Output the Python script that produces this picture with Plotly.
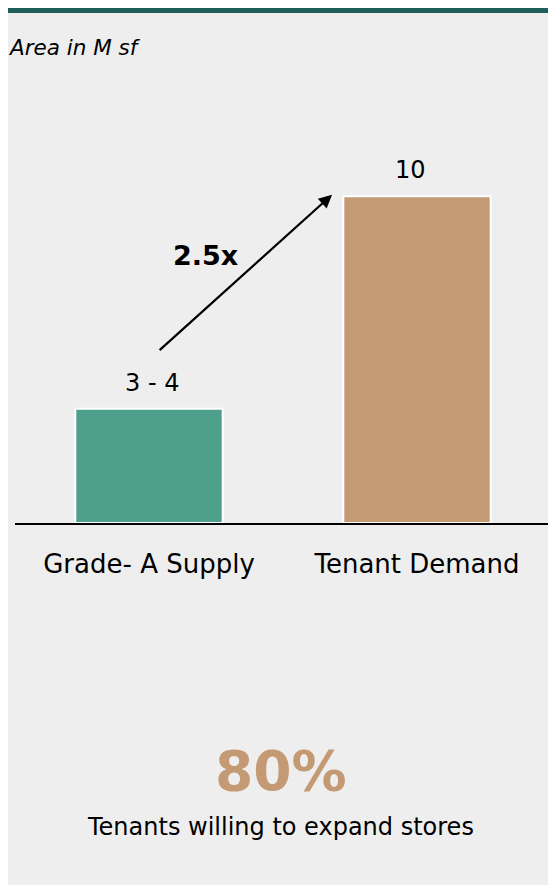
import plotly.graph_objects as go

# data
categories = ["Grade- A Supply", "Tenant Demand"]
values = [3.5, 10]
value_labels = ["3 - 4", "10"]
bar_colors = ["#4e9f8c", "#c49a74"]
growth_label = "2.5x"
headline_value = "80%"
headline_caption = "Tenants willing to expand stores"
unit_note = "Area in M sf"

# the page body adds an 8px margin, so the figure is laid out smaller
OFF = 8
W, H = 556 - OFF, 893 - 2 * OFF
ML, MR, MT, MB = 7, 5, 123, 362
FONT = "DejaVu Sans"
label_xshift = [3, -7]


def px_x(p):
    # page pixel -> paper x
    return (p - OFF - ML) / (W - ML - MR)


def px_y(p):
    # page pixel -> paper y
    return (H - MB - (p - OFF)) / (H - MT - MB)


fig = go.Figure()
fig.add_trace(go.Bar(x=categories, y=values, cliponaxis=False,
                     marker=dict(color=bar_colors, line=dict(color="white", width=2)),
                     width=0.55, showlegend=False, hoverinfo="skip"))

# value labels above bars
for cat, val, lab, dx in zip(categories, values, value_labels, label_xshift):
    fig.add_annotation(x=cat, y=val, text=lab, showarrow=False, yanchor="middle",
                       yshift=26, xshift=dx, font=dict(size=24, color="black", family=FONT))

# background panel and top strip
fig.add_shape(type="rect", xref="paper", yref="paper", layer="below",
              x0=px_x(7), x1=px_x(560), y0=px_y(13), y1=px_y(890),
              fillcolor="#eeeeee", line_width=0)
fig.add_shape(type="rect", xref="paper", yref="paper", layer="below",
              x0=px_x(7), x1=px_x(560), y0=px_y(5), y1=px_y(13),
              fillcolor="#1f5f5b", line_width=0)

# growth arrow from supply to demand
fig.add_annotation(x=0.683, y=values[1] + 0.05, ax=0.034, ay=values[0] + 1.75,
                   xref="x", yref="y", axref="x", ayref="y", text="",
                   showarrow=True, arrowhead=2, arrowsize=1.2, arrowwidth=2.2,
                   arrowcolor="black")
fig.add_annotation(x=0.209, y=8.2, xref="x", yref="y", text="<b>" + growth_label + "</b>",
                   showarrow=False, font=dict(size=27, color="black", family=FONT))

fig.add_annotation(x=px_x(6), y=px_y(47), xref="paper", yref="paper",
                   xanchor="left", yanchor="middle", showarrow=False,
                   text="<i>" + unit_note + "</i>",
                   font=dict(size=21.5, color="black", family=FONT))
fig.add_annotation(x=px_x(281), y=px_y(771), xref="paper", yref="paper",
                   xanchor="center", yanchor="middle", showarrow=False,
                   text="<b>" + headline_value + "</b>",
                   font=dict(size=55, color="#c49a74", family=FONT))
fig.add_annotation(x=px_x(280), y=px_y(827), xref="paper", yref="paper",
                   xanchor="center", yanchor="middle", showarrow=False,
                   text=headline_caption,
                   font=dict(size=24, color="black", family=FONT))

fig.update_layout(width=W, height=H, margin=dict(l=ML, r=MR, t=MT, b=MB),
                  paper_bgcolor="white", plot_bgcolor="rgba(0,0,0,0)",
                  font=dict(family=FONT, color="black"), bargap=0.45)
fig.update_xaxes(range=[-0.5, 1.5], showline=True, linecolor="black", linewidth=1.5,
                 ticks="", ticklabelstandoff=17, tickfont=dict(size=26, color="black"),
                 showgrid=False, zeroline=False, fixedrange=True)
fig.update_yaxes(range=[0, 12], visible=False, showgrid=False, zeroline=False,
                 fixedrange=True)

fig.write_html("out.html")
